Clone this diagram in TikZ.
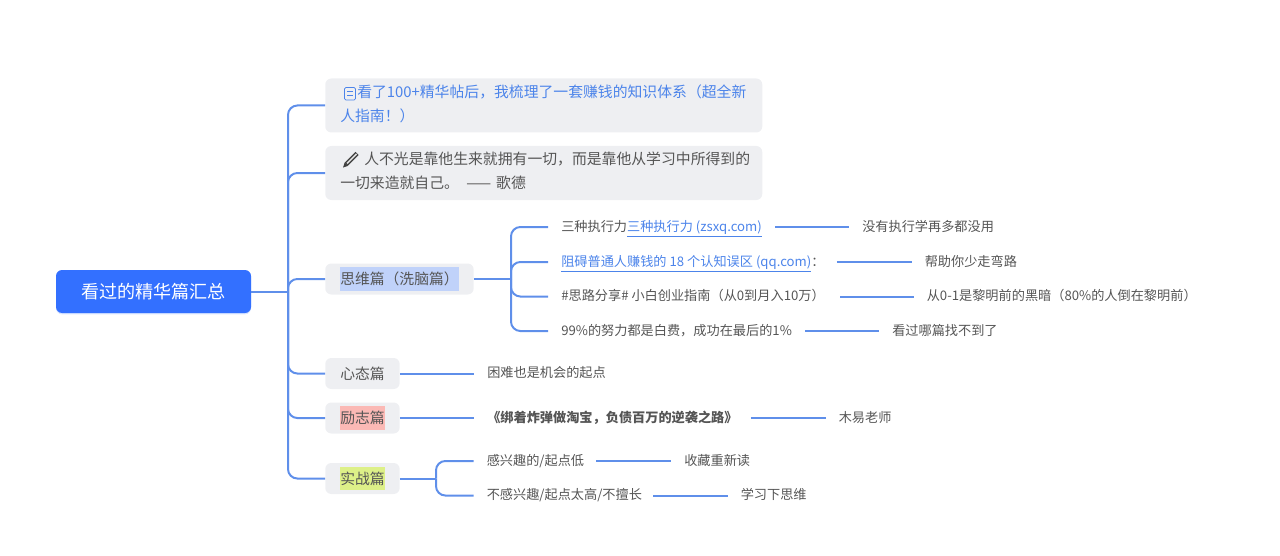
\documentclass[tikz,border=0pt]{standalone}
\usepackage{fontspec}
\setmainfont{Noto Sans CJK SC}
\usetikzlibrary{shadows}
\definecolor{rootblue}{HTML}{3370FF}
\definecolor{conn}{HTML}{5F8FEA}
\definecolor{boxgray}{HTML}{EEEFF2}
\definecolor{txt}{HTML}{555555}
\definecolor{linkc}{HTML}{4C84EA}
\definecolor{hlblue}{HTML}{C0D2FA}
\definecolor{hlred}{HTML}{FBB9B5}
\definecolor{hlgreen}{HTML}{DDF088}
\newcommand{\hlt}[2]{{\setlength{\fboxsep}{0pt}\colorbox{#1}{\rule[-4.6pt]{0pt}{17.6pt}#2}}}
\newcommand{\lastline}{\rule[-4pt]{0pt}{0pt}}
\tikzset{
  line/.style={draw=conn,line width=1.5pt},
  branch/.style={line,rounded corners=7pt},
  rootbox/.style={fill=rootblue,rounded corners=4.5pt,text=white,font=\fontsize{13.55pt}{16pt}\selectfont,
    minimum width=146.25pt,minimum height=32.25pt,inner sep=0pt,
    drop shadow={shadow xshift=0pt,shadow yshift=-1pt,opacity=.18,fill=rootblue}},
  widebox/.style={fill=boxgray,rounded corners=4.5pt,anchor=west,text=txt,align=left,
    font=\fontsize{11.13pt}{17.8pt}\selectfont,minimum width=327.75pt,minimum height=40.5pt,inner xsep=11.25pt,inner ysep=0pt,text width=305.25pt},
  catbox/.style={fill=boxgray,rounded corners=4.5pt,anchor=west,text=txt,
    font=\fontsize{11.1pt}{14pt}\selectfont,minimum height=23.25pt,inner xsep=11.25pt,inner ysep=0pt},
  leaf/.style={anchor=west,text=txt,font=\fontsize{9.88pt}{12pt}\selectfont,inner xsep=9.75pt,inner ysep=0pt,text height=8.4pt,text depth=2.2pt},
  icon/.style={draw=linkc,line width=.6pt}
}
\begin{document}
\begin{tikzpicture}[x=0.75pt,y=-0.75pt]
\useasboundingbox (0,0) rectangle (1280,556);
\node[rootbox] (root) at (153.5,291.5) {看过的精华篇汇总};
\node[widebox,text=linkc] (top1) at (325,105.5) {\hspace{12.75pt}看了100+精华帖后，我梳理了一套赚钱的知识体系（超全新\\人指南！）\lastline};
\node[widebox] (top2) at (325,173) {\hspace{18pt}人不光是靠他生来就拥有一切，而是靠他从学习中所得到的\\一切来造就自己。\hspace{.5em}—— 歌德\lastline};
\node[catbox] (think) at (325,279) {\hlt{hlblue}{思维篇（洗脑篇）}};
\node[catbox] (mind) at (325,373.5) {心态篇};
\node[catbox] (inspire) at (325,418) {\hlt{hlred}{励志篇}};
\node[catbox] (fight) at (325,478.5) {\hlt{hlgreen}{实战篇}};
% leaves of thinking
\node[leaf] (a1) at (548,227) {三种执行力\textcolor{linkc}{\underline{三种执行力 (zsxq.com)}}};
\node[leaf] (a2) at (548,262) {\textcolor{linkc}{\underline{阻碍普通人赚钱的 18 个认知误区 (qq.com)}}：\kern-.75pt\relax};
\node[leaf] (a3) at (548,296.5) {\#思路分享\# 小白创业指南（从0到月入10万）\kern1.5pt\relax};
\node[leaf] (a4) at (548,331) {99\%的努力都是白费，成功在最后的1\%};
\node[leaf] (b1) at (849,227) {没有执行学再多都没用};
\node[leaf] (b2) at (911.5,262) {帮助你少走弯路};
\node[leaf] (b3) at (913.5,296.5) {从0-1是黎明前的黑暗（80\%的人倒在黎明前）};
\node[leaf] (b4) at (879,331) {看过哪篇找不到了};
\node[leaf] (c1) at (474,373.5) {困难也是机会的起点};
\node[leaf,font=\fontsize{9.88pt}{12pt}\selectfont\bfseries] (c2) at (474,418) {《绑着炸弹做淘宝，负债百万的逆袭之路》};
\node[leaf] (c3) at (825.5,418) {木易老师};
\node[leaf] (d1) at (473.5,461) {感兴趣的/起点低\kern-.75pt\relax};
\node[leaf] (d2) at (473.5,495.5) {不感兴趣/起点太高/不擅长\kern-1.5pt\relax};
\node[leaf] (e1) at (671,461) {收藏重新读};
\node[leaf] (e2) at (727.5,495.5) {学习下思维};
% junctions
\coordinate (j0) at (288,291.5);
\coordinate (j1) at (511,279);
\coordinate (j2) at (436,478.5);
% connectors
\draw[line] (root.east) -- (j0);
\foreach \n in {top1,top2,think,mind,inspire,fight}{\draw[branch] (j0) |- (\n.west);}
\draw[line] (think.east) -- (j1);
\foreach \n in {a1,a2,a3,a4}{\draw[branch] (j1) |- (\n.west);}
\draw[line] (a1.east) -- (b1.west);
\draw[line] (a2.east) -- (b2.west);
\draw[line] (a3.east) -- (b3.west);
\draw[line] (a4.east) -- (b4.west);
\draw[line] (mind.east) -- (c1.west);
\draw[line] (inspire.east) -- (c2.west);
\draw[line] (c2.east) -- (c3.west);
\draw[line] (fight.east) -- (j2);
\foreach \n in {d1,d2}{\draw[branch] (j2) |- (\n.west);}
\draw[line] (d1.east) -- (e1.west);
\draw[line] (d2.east) -- (e2.west);
% document icon
\draw[icon,rounded corners=1pt] (344.5,87.5) rectangle (355.5,100);
\draw[icon] (347,91.5) -- (353,91.5) (347,95) -- (353,95);
% pencil icon
\draw[line width=3.4pt,draw=black!75] (346,164.5) -- (357,153.5);
\draw[line width=1.2pt,draw=black!15] (347,163.5) -- (356.5,154);
\fill[black!75] (343,167.5) -- (347.5,166) -- (344.5,163) -- cycle;
\end{tikzpicture}
\end{document}
